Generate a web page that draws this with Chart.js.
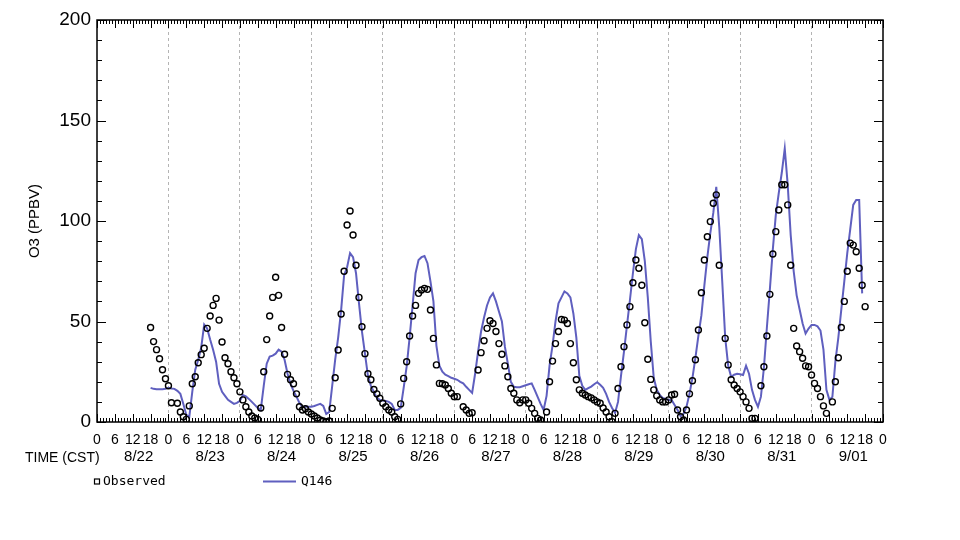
<!DOCTYPE html>
<html>
<head>
<meta charset="utf-8">
<script src="https://cdn.jsdelivr.net/npm/chart.js@4.4.1/dist/chart.umd.min.js"></script>
<style>
html,body{margin:0;padding:0;background:#fff;}
#c{display:block;}
</style>
</head>
<body>
<canvas id="c" width="960" height="540"></canvas>
<script>
// ---- DATA ----
// hours since 8/22 00:00 CST; series start at hour 18
const OBS_START_HOUR = 18;
const MODEL_START_HOUR = 18;
const X_MAX_HOUR = 264;
const dayLabels = ['8/22','8/23','8/24','8/25','8/26','8/27','8/28','8/29','8/30','8/31','9/01'];
const hourLabelStep = 6;
const yTicks = [0, 50, 100, 150, 200];

const observed = [
  47, 40, 36, 31.5, 26, 21.5,
  18, 9.6, null, 9.3, 5, 2.6,
  1.3, 8, 19, 22.5, 29.5, 33.5,
  36.7, 46.6, 52.7, 58, 61.5, 50.7,
  39.8, 32, 29, 25, 22, 19,
  15, 11, 7.6, 5, 3, 2,
  1.3, 7, 25, 41, 52.7, 62,
  72, 63, 47, 33.7, 23.7, 21,
  19, 14, 7.6, 6, 6.6, 5,
  4, 3, 2, 1, 0.5, 0,
  0.5, 6.8, 22, 35.8, 53.7, 75,
  98, 105, 93, 78, 62, 47.4,
  34, 24, 21, 16.2, 14, 11.8,
  9.3, 7.6, 6, 5, 2.6, 1.3,
  9, 21.7, 30, 42.8, 52.7, 58,
  64, 65.7, 66.5, 66, 55.7, 41.6,
  28.4, 19.2, 19, 18.4, 16.7, 14.3,
  12.6, 12.6, null, 7.6, 6, 4.3,
  4.6, null, 25.9, 34.5, 40.4, 46.6,
  50.4, 49, 45, 39, 33.7, 27.9,
  22.5, 16.7, 14.3, 11, 9.6, 11,
  11, 9.3, 6.8, 4.3, 1.8, 1,
  null, 5, 20, 30.3, 39, 45,
  51, 50.7, 49, 39, 29.5, 21,
  16, 14.3, 13.4, 12.6, 12, 11,
  10, 9.3, 7, 5, 2.6, 0.2,
  4.3, 16.7, 27.5, 37.5, 48.3, 57.4,
  69.3, 80.6, 76.5, 68, 49.4, 31.2,
  21.2, 16, 13, 11, 10, 10,
  11, 13.4, 13.8, 6, 2.6, 1,
  6, 14, 20.5, 31, 45.8, 64.3,
  80.6, 92.2, 99.7, 108.8, 113, 78,
  null, 41.6, 28.4, 21, 18.4, 16.7,
  15, 12.6, 10, 6.8, 1.8, 1.8,
  null, 18, 27.5, 42.8, 63.5, 83.6,
  94.7, 105.5, 118, 118, 108, 78,
  46.6, 37.8, 35, 31.7, 27.9, 27.5,
  23.4, 19.2, 16.7, 12.6, 8, 4.3,
  null, 10, 20, 32, 47, 60,
  75, 89, 88, 84.7, 76.5, 68,
  57.4
];

const q146 = [
  17, 16.5, 16.3, 16.3, 16.3, 16.5,
  17, 16.7, 16.5, 15.5, 14, 9,
  3.5, 2.6, 15, 26, 31, 37,
  48.5, 46.5, 41, 36, 30, 19,
  15, 13, 11, 10, 9, 9.5,
  10.5, 13.4, 12.8, 11.5, 10, 8.5,
  7, 6, 18, 29, 32.5, 33,
  34, 36, 35, 31, 24, 19,
  15.5, 12.6, 9.5, 7.6, 7.6, 7.6,
  7.6, 8, 8.5, 9, 8, 4,
  5, 18, 31, 42, 55.7, 73,
  77, 84, 82, 74, 59, 45,
  34, 23, 18, 15, 12, 11,
  10.7, 10.5, 10, 9, 6, 6,
  7, 17, 27.5, 42, 58, 74,
  80.6, 82, 82.6, 79, 70, 60,
  38, 28, 25, 23.5, 22.8, 22,
  21.5, 21, 20, 19.2, 17.5, 16,
  14.5, 24, 35, 45, 52, 58,
  62, 64, 60, 55, 50, 37.5,
  29, 20, 17.5, 17.3, 17.3, 17.8,
  18.3, 18.8, 19.2, 16, 12.5, 9,
  6, 13, 28, 38, 50, 59,
  62, 65, 64, 62, 54, 42,
  23, 18, 16, 16.8, 17.6, 18.8,
  19.8, 18.5, 17, 14, 10, 7,
  4.5, 10, 23, 35, 48, 60.7,
  74, 86, 93, 91, 80, 62,
  40, 22, 16, 13.5, 12, 11.5,
  11, 11, 8.5, 6, 3, 4,
  7.6, 14, 22, 32, 43, 53,
  68, 82, 94, 104, 117, 97,
  70, 42, 28, 22.5, 23.5, 24,
  23.8, 23.4, 28, 24, 16, 11,
  7.6, 12.6, 27, 47, 66, 86,
  103, 114, 124, 136, 118, 93,
  75, 63, 56, 49, 44, 46.5,
  48.3, 48.3, 47.6, 45.5, 36, 16,
  11, 12.5, 30, 42, 56, 70,
  84, 96, 108, 110.4, 110.4, 64
];

// ---- BUILD ----
const MODEL_COLOR = '#5f5fbf';
const FONT = '"Liberation Sans", Arial, Helvetica, sans-serif';
const MONO = '"DejaVu Sans Mono", monospace';

const obsPoints = observed.map((v, i) => ({x: OBS_START_HOUR + i, y: v}));
const modelPoints = q146.map((v, i) => ({x: MODEL_START_HOUR + i, y: v}));
const dateTickHours = dayLabels.map((d, i) => i * 24 + 14);

const framePlugin = {
  id: 'frameTicks',
  afterDraw(chart) {
    const {ctx, chartArea: a, scales} = chart;
    const x = scales.x, y = scales.y;
    ctx.save();
    ctx.strokeStyle = '#000';
    ctx.lineWidth = 1;
    ctx.beginPath();
    for (let h = 0; h <= X_MAX_HOUR; h++) {
      const px = Math.round(x.getPixelForValue(h)) + 0.5;
      const len = h % hourLabelStep === 0 ? 8 : 4;
      ctx.moveTo(px, a.bottom); ctx.lineTo(px, a.bottom - len);
      ctx.moveTo(px, a.top); ctx.lineTo(px, a.top + len);
    }
    for (let v = 0; v <= 200; v += 10) {
      const py = Math.round(y.getPixelForValue(v)) + 0.5;
      const len = v % 50 === 0 ? 9 : 5;
      ctx.moveTo(a.left, py); ctx.lineTo(a.left + len, py);
      ctx.moveTo(a.right, py); ctx.lineTo(a.right - len, py);
    }
    ctx.stroke();
    ctx.lineWidth = 1.5;
    ctx.strokeRect(a.left, a.top, a.right - a.left, a.bottom - a.top);

    // TIME (CST) label
    ctx.fillStyle = '#000';
    ctx.font = '14px ' + FONT;
    ctx.textBaseline = 'middle';
    ctx.textAlign = 'left';
    ctx.fillText('TIME (CST)', a.left - 72, 458);

    // legend
    const ly = 481.5;
    ctx.lineWidth = 1.2;
    ctx.strokeRect(a.left - 2.5, ly - 2.5, 5, 5);
    ctx.font = '13px ' + MONO;
    ctx.fillText('Observed', a.left + 6, ly);
    ctx.strokeStyle = MODEL_COLOR;
    ctx.lineWidth = 2;
    ctx.beginPath();
    ctx.moveTo(a.left + 166, ly); ctx.lineTo(a.left + 199, ly);
    ctx.stroke();
    ctx.fillText('Q146', a.left + 204, ly);
    ctx.restore();
  }
};

new Chart(document.getElementById('c'), {
  type: 'line',
  data: {
    datasets: [
      {
        label: 'Observed',
        data: obsPoints,
        showLine: false,
        pointStyle: 'circle',
        pointRadius: 3,
        pointBorderWidth: 1.4,
        pointBorderColor: '#000',
        pointBackgroundColor: 'rgba(255,255,255,0)',
        xAxisID: 'x', yAxisID: 'y'
      },
      {
        label: 'Q146',
        data: modelPoints,
        borderColor: MODEL_COLOR,
        borderWidth: 2,
        pointRadius: 0,
        tension: 0,
        fill: false,
        xAxisID: 'x', yAxisID: 'y'
      }
    ]
  },
  options: {
    responsive: false,
    animation: false,
    devicePixelRatio: 1,
    layout: {padding: {left: 0, top: 20, right: 77, bottom: 74}},
    plugins: {legend: {display: false}, tooltip: {enabled: false}},
    scales: {
      x: {
        type: 'linear',
        position: 'bottom',
        min: 0, max: X_MAX_HOUR,
        afterFit: s => { s.height = 22; },
        ticks: {
          stepSize: hourLabelStep,
          autoSkip: false,
          maxRotation: 0, minRotation: 0,
          padding: 10,
          color: '#000',
          font: {family: FONT, size: 14},
          callback: v => String(v % 24)
        },
        grid: {
          drawTicks: false,
          lineWidth: 1,
          color: c => (c.tick && c.tick.value % 24 === 0 && c.tick.value > 0 && c.tick.value < X_MAX_HOUR) ? '#b4b4b4' : 'rgba(0,0,0,0)'
        },
        border: {display: false, dash: [3, 3]}
      },
      x2: {
        type: 'linear',
        position: 'bottom',
        min: 0, max: X_MAX_HOUR,
        afterFit: s => { s.height = 22; },
        afterBuildTicks: s => { s.ticks = dateTickHours.map(v => ({value: v})); },
        ticks: {
          autoSkip: false,
          maxRotation: 0, minRotation: 0,
          padding: 4,
          color: '#000',
          font: {family: FONT, size: 15},
          callback: (v, i) => dayLabels[i]
        },
        grid: {display: false, drawTicks: false},
        border: {display: false}
      },
      y: {
        type: 'linear',
        position: 'left',
        min: 0, max: 200,
        afterFit: s => { s.width = 97; },
        afterBuildTicks: s => { s.ticks = yTicks.map(v => ({value: v})); },
        ticks: {
          padding: 6,
          color: '#000',
          font: {family: FONT, size: 19}
        },
        grid: {display: false, drawTicks: false},
        border: {display: false},
        title: {
          display: true,
          text: 'O3 (PPBV)',
          color: '#000',
          font: {family: FONT, size: 15},
          padding: {top: 26, bottom: 0}
        }
      }
    }
  },
  plugins: [framePlugin]
});
</script>
</body>
</html>
